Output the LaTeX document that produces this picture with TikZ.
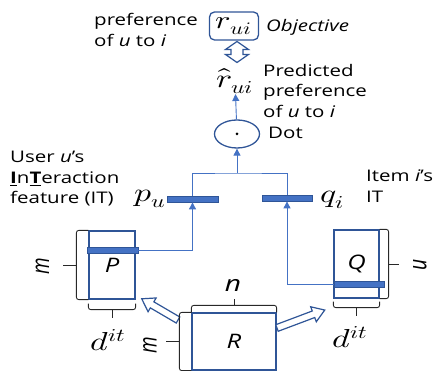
\documentclass[tikz,border=0pt]{standalone}
\usepackage{fontspec}
\usepackage{unicode-math}
\setmainfont{Open Sans}[FakeStretch=1.28]
\setmathfont{Latin Modern Math}
\newfontfamily\upsans{Open Sans}
\usepackage{graphicx}
\usetikzlibrary{positioning,shapes.geometric,arrows.meta}

\definecolor{boxblue}{RGB}{47,85,151}
\definecolor{lineblue}{RGB}{68,114,196}
\definecolor{brgray}{RGB}{40,40,40}

\newcommand{\wmath}[1]{\scalebox{1.3}[1]{$#1$}}
\newcommand{\tallit}[1]{\scalebox{1}[1.3]{\upsans\itshape #1}}

\tikzset{
  matbox/.style={rectangle,draw=boxblue,line width=1.3pt,inner sep=0pt,font=\fontsize{20}{22}\selectfont\itshape},
  vecbar/.style={rectangle,draw=boxblue,fill=lineblue,line width=0.8pt,inner sep=0pt,minimum height=6pt},
  flow/.style={draw=lineblue,line width=0.9pt},
  flowarr/.style={flow,-{Triangle[width=7pt,length=7pt]}},
  txt/.style={inner sep=0pt,align=left,font=\fontsize{16}{20.5}\selectfont},
  mathlbl/.style={inner sep=0pt,font=\fontsize{26}{30}\selectfont},
  dimlbl/.style={inner sep=0pt,font=\fontsize{19}{19}\selectfont},
  brk/.style={draw=brgray,line width=0.9pt,rounded corners=2.5pt},
  hollow/.style={draw=boxblue,fill=white,line width=1.2pt,line join=miter},
}

\begin{document}
\begin{tikzpicture}[x=1pt,y=1pt]
  \useasboundingbox (0,0) rectangle (440,371);

  % objective and prediction
  \node at (234,345)[rectangle,rounded corners=5pt,draw=boxblue,line width=1.3pt,minimum width=49pt,minimum height=28pt,inner sep=0pt,font=\fontsize{25}{28}\selectfont] (rui) {\wmath{r_{ui}}};
  \node at (266,344)[txt,anchor=west] (objlbl) {\itshape Objective};
  \node at (94,341)[txt,anchor=west] (preflbl) {preference\\of \textit{u} to \textit{i}};
  \node at (235,290)[mathlbl] (rhat) {\wmath{\hat{r}_{ui}}};
  \coordinate (match) at (237,319);
  \draw[hollow,shift={(match)}] (0,10.5) -- (11.5,2.5) -- (6,2.5) -- (6,-2.5) -- (11.5,-2.5) -- (0,-10.5)
    -- (-11.5,-2.5) -- (-6,-2.5) -- (-6,2.5) -- (-11.5,2.5) -- cycle;
  \node at (263,280)[txt,anchor=west] (predlbl) {Predicted\\preference\\of \textit{u} to \textit{i}};

  % dot product
  \node at (237,237)[ellipse,draw=boxblue,line width=1.3pt,minimum width=45pt,minimum height=28pt,inner sep=0pt] (dot) {};
  \fill (dot.center) circle (1.5);
  \node at (268,238)[txt,anchor=west] (dotlbl) {Dot};
  \draw[flowarr] (dot) -- (rhat);

  % IT vectors
  \node at (192.5,172)[vecbar,minimum width=51pt] (pu) {};
  \node at (287,173)[vecbar,minimum width=50pt] (qi) {};
  \coordinate (join) at (237,198);
  \draw[flow] (pu.north) |- (join) -| (qi.north);
  \draw[flowarr] (join) -- (dot.south);
  \node at (150,172)[mathlbl] (pulbl) {\wmath{p_u}};
  \node at (332,171)[mathlbl] (qilbl) {\wmath{q_i}};
  \node at (10,192)[txt,anchor=west] (userlbl) {User \textit{u}’s\\\underline{\textbf{I}}n\underline{\textbf{T}}eraction\\feature (IT)};
  \node at (366,185)[txt,anchor=west] (itemlbl) {Item \textit{i}’s\\IT};

  % P and Q
  \node at (112,106)[matbox,minimum width=46pt,minimum height=68pt] (P) {P};
  \node at (112.5,121)[vecbar,minimum width=51pt] (pbar) {};
  \draw[flowarr] (pbar.east) -| (pu.south);
  \node at (356.5,107)[matbox,minimum width=45pt,minimum height=68pt] (Q) {Q};
  \node at (359,87)[vecbar,minimum width=50pt] (qbar) {};
  \draw[flowarr] (qbar.west) -| (qi.south);

  % R
  \node at (234,29.5)[matbox,minimum width=84pt,minimum height=57pt] (R) {R};
  \draw[hollow,shift={(178,51)},rotate=149.7] (0,-3.5) -- (30,-3.5) -- (30,-8) -- (42,0) -- (30,8) -- (30,3.5) -- (0,3.5) -- cycle;
  \draw[hollow,shift={(277,43)},rotate=20.6] (0,-3.5) -- (39,-3.5) -- (39,-8) -- (51,0) -- (39,8) -- (39,3.5) -- (0,3.5) -- cycle;

  % braces
  \draw[brk] (P.north west) -- ++(-12,0) |- (P.south west);
  \draw[brk] ([xshift=-12pt]P.west) -- ++(-13,0);
  \node at (42.5,105)[dimlbl,rotate=90] (mP) {\tallit{m}};
  \draw[brk] ([yshift=-4pt]P.south west) -- ++(0,-6) -| ([yshift=-4pt]P.south east);
  \draw[brk] ([yshift=-10pt]P.south) -- ++(0,-8);
  \node at (108,31)[mathlbl] (dP) {\wmath{d^{it}}};

  \draw[brk] (Q.north east) -- ++(9,0) |- (Q.south east);
  \draw[brk] ([xshift=9pt]Q.east) -- ++(10,0);
  \node at (420,106)[dimlbl,rotate=-90] (nQ) {\tallit{n}};
  \draw[brk] ([yshift=-3pt]Q.south west) -- ++(0,-6) -| ([yshift=-3pt]Q.south east);
  \draw[brk] ([yshift=-9pt]Q.south) -- ++(0,-8);
  \node at (350,34)[mathlbl] (dQ) {\wmath{d^{it}}};

  \draw[brk] (R.north west) -- ++(0,7) -| (R.north east);
  \draw[brk] ([yshift=7pt]R.north) -- ++(0,6);
  \node at (233,86)[dimlbl,font=\fontsize{22}{22}\selectfont] (nR) {\itshape n};
  \draw[brk] (R.north west) -- ++(-12,0) |- (R.south west);
  \draw[brk] ([xshift=-12pt]R.west) -- ++(-13,0);
  \node at (150,26)[dimlbl,rotate=90] (mR) {\tallit{m}};
\end{tikzpicture}
\end{document}
